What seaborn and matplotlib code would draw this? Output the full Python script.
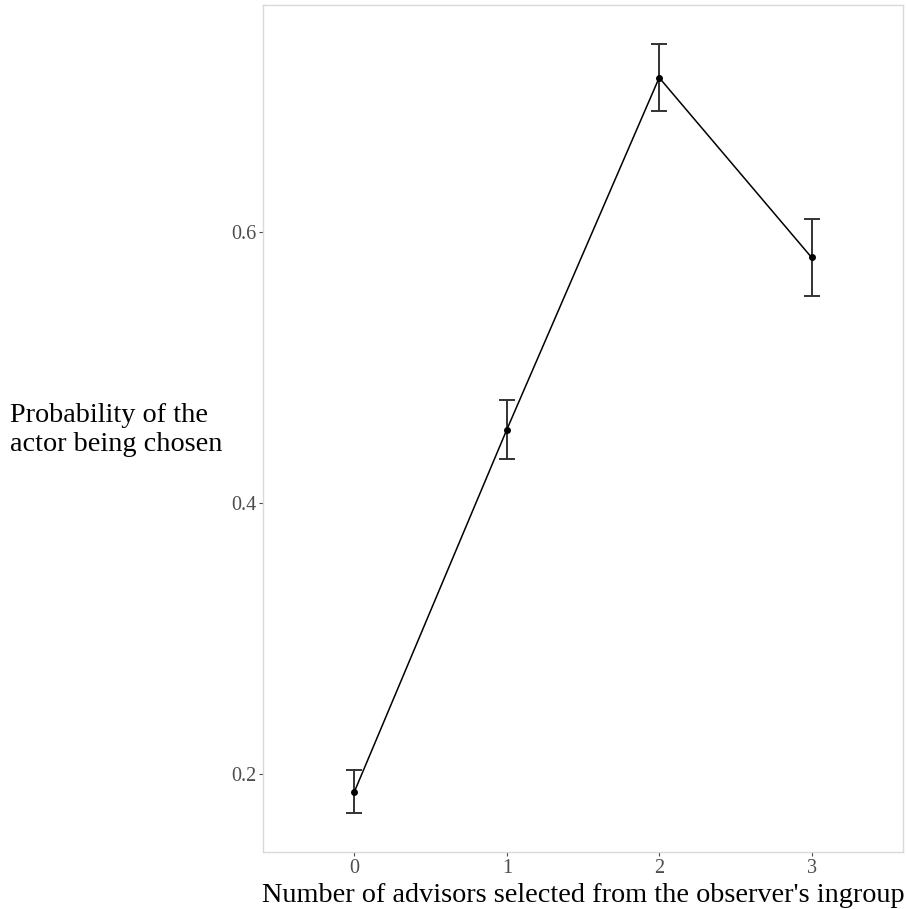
import matplotlib
matplotlib.use("Agg")
import matplotlib.pyplot as plt
import seaborn as sns
import pandas as pd
import numpy as np

n_advisors = [0, 1, 2, 3]
prob_mean = [0.187, 0.454, 0.7136, 0.581]
prob_low = [0.1715, 0.4323, 0.6893, 0.5528]
prob_high = [0.203, 0.4759, 0.7384, 0.6091]
y_ticks = [0.2, 0.4, 0.6]
y_ticklabels = ["0.2", "0.4", "0.6"]

sns.set_theme(style="white")
plt.rcParams['font.family'] = ['Liberation Serif', 'DejaVu Serif']

df = pd.DataFrame({"x": n_advisors, "y": prob_mean, "lo": prob_low, "hi": prob_high})

fig = plt.figure(figsize=(9.06, 9.09), dpi=100)
ax = fig.add_axes([263/906, 57.3/909, 640/906, 846.7/909])

yerr = np.vstack([df["y"] - df["lo"], df["hi"] - df["y"]])
ax.errorbar(df["x"], df["y"], yerr=yerr, fmt="none", ecolor="#333333",
            elinewidth=1.4, capsize=5.8, capthick=1.4, zorder=2)
sns.lineplot(data=df, x="x", y="y", ax=ax, color="black", linewidth=1.1,
             marker="o", markersize=5, markeredgewidth=0, zorder=3)

ax.set_xlim(-0.6, 3.6)
ax.set_ylim(0.1427, 0.7672)
ax.set_xticks(n_advisors)
ax.set_xticklabels([str(v) for v in n_advisors])
ax.set_yticks(y_ticks)
ax.set_yticklabels(y_ticklabels)
ax.tick_params(axis="both", which="both", length=3, width=0.8, color="#4D4D4D",
               labelcolor="#4D4D4D", labelsize=14.5, pad=2, bottom=True, left=True)
for s in ax.spines.values():
    s.set_color("#D9D9D9")
    s.set_linewidth(1.0)
ax.grid(False)

ax.set_xlabel("Number of advisors selected from the observer's ingroup",
              fontsize=20.3, color="black", labelpad=4)
ax.set_ylabel("")
fig.text(10/906, 1 - 430/909, "Probability of the\nactor being chosen",
         fontsize=20.3, ha="left", va="center", color="black", linespacing=1.2)

fig.savefig("out.png", dpi=100)
